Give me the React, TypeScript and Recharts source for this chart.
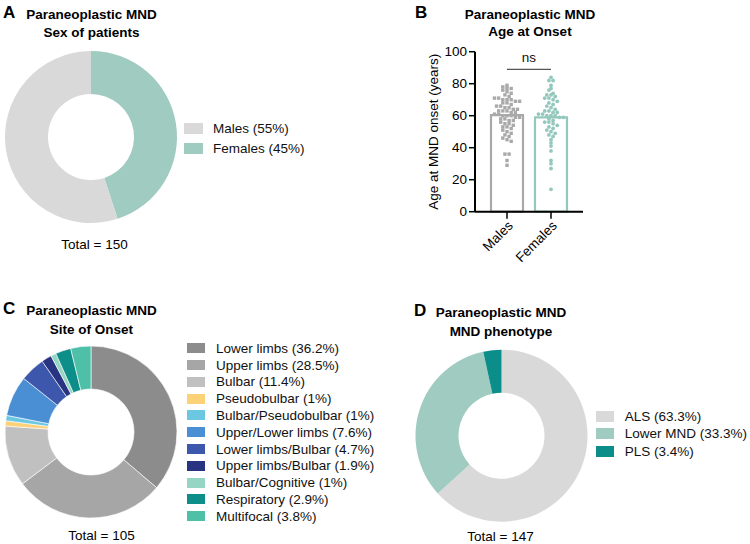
import React from 'react';
import {
  PieChart,
  Pie,
  Cell,
  Legend,
  ComposedChart,
  Bar,
  Scatter,
  XAxis,
  YAxis,
  ReferenceLine,
  Label,
} from 'recharts';

const FONT = '"Liberation Sans", Arial, Helvetica, sans-serif';

// A: sex of patients (clockwise from 12 o'clock)
const sexNames = ['Females', 'Males'];
const sexShares = [45, 55];
const sexColors = ['#9fcbc1', '#d9d9d9'];
const sexLegendOrder = [1, 0];
const sexTotal = 150;

// B: age at onset per sex
const ageGroups = ['Males', 'Females'];
const groupColors = ['#a9a9a9', '#94c8bc'];
const maleAges = [
  79, 78, 77, 77, 76, 75, 74, 73, 72, 71, 71, 70, 70, 70, 69, 69, 68, 68, 67, 66,
  66, 65, 65, 64, 64, 63, 63, 63, 62, 62, 61, 61, 60, 60, 60, 59, 59, 58, 58, 57,
  57, 56, 55, 55, 54, 53, 53, 52, 51, 50, 49, 48, 47, 46, 45, 44, 36, 36, 32, 29,
];
const femaleAges = [
  84, 82, 82, 79, 77, 76, 74, 73, 73, 72, 71, 71, 70, 69, 68, 67, 66, 65, 64, 63,
  63, 62, 62, 61, 61, 60, 60, 60, 59, 59, 58, 57, 56, 56, 55, 54, 53, 52, 51, 50,
  49, 48, 47, 45, 43, 41, 38, 32, 30, 27, 14,
];
const ageTicks = [0, 20, 40, 60, 80, 100];
const nsLevel = 89;

// C: site of onset (clockwise from 12 o'clock)
const siteNames = [
  'Lower limbs',
  'Upper limbs',
  'Bulbar',
  'Pseudobulbar',
  'Bulbar/Pseudobulbar',
  'Upper/Lower limbs',
  'Lower limbs/Bulbar',
  'Upper limbs/Bulbar',
  'Bulbar/Cognitive',
  'Respiratory',
  'Multifocal',
];
const siteShares = [36.2, 28.5, 11.4, 1, 1, 7.6, 4.7, 1.9, 1, 2.9, 3.8];
const siteColors = [
  '#8c8c8c',
  '#a6a6a6',
  '#c0c0c0',
  '#fdd178',
  '#6cc8e2',
  '#4a8fd4',
  '#3d57ad',
  '#283381',
  '#94d5c4',
  '#0e8e88',
  '#4fc0a8',
];
const siteTotal = 105;

// D: MND phenotype (clockwise from 12 o'clock)
const phenoNames = ['ALS', 'Lower MND', 'PLS'];
const phenoShares = [63.3, 33.3, 3.4];
const phenoColors = ['#d9d9d9', '#9fcbc1', '#0b8e8a'];
const phenoTotal = 147;

const mean = (xs: number[]) => xs.reduce((s, v) => s + v, 0) / xs.length;

// Spread points that share an age band side by side (dot-plot layout)
function swarm(ages: number[], center: number) {
  const bins = new Map<number, number[]>();
  ages.forEach((a) => {
    const k = Math.round(a / 2.5);
    bins.set(k, [...(bins.get(k) ?? []), a]);
  });
  const pts: { x: number; age: number }[] = [];
  bins.forEach((list) =>
    list.forEach((age, i) => pts.push({ x: center + (i - (list.length - 1) / 2) * 0.095, age }))
  );
  return pts;
}

type LegendItem = { label: string; color: string };

function SwatchLegend({
  items,
  sw,
  sh,
  gap,
  rowH,
}: {
  items: LegendItem[];
  sw: number;
  sh: number;
  gap: number;
  rowH: number;
}) {
  return (
    <div style={{ fontFamily: FONT, fontSize: 13.5, color: '#111' }}>
      {items.map((it) => (
        <div
          key={it.label}
          style={{ display: 'flex', alignItems: 'center', height: rowH, whiteSpace: 'nowrap' }}
        >
          <span style={{ width: sw, height: sh, background: it.color, marginRight: gap, flex: 'none' }} />
          <span>{it.label}</span>
        </div>
      ))}
    </div>
  );
}

function Donut({
  names,
  shares,
  colors,
  cx,
  cy,
  legendItems,
  legendPos,
  sw,
  sh,
  gap,
  rowH,
  stroke,
}: {
  names: string[];
  shares: number[];
  colors: string[];
  cx: number;
  cy: number;
  legendItems: LegendItem[];
  legendPos: { left: number; top: number };
  sw: number;
  sh: number;
  gap: number;
  rowH: number;
  stroke?: string;
}) {
  const data = names.map((name, i) => ({ name, value: shares[i] }));
  return (
    <PieChart width={375} height={272} margin={{ top: 0, right: 0, bottom: 0, left: 0 }}>
      <Pie
        data={data}
        dataKey="value"
        nameKey="name"
        cx={cx}
        cy={cy}
        innerRadius={43}
        outerRadius={86}
        startAngle={90}
        endAngle={-270}
        stroke={stroke ?? 'none'}
        strokeWidth={0.6}
        isAnimationActive={false}
      >
        {data.map((d, i) => (
          <Cell key={d.name} fill={colors[i]} />
        ))}
      </Pie>
      <Legend
        layout="vertical"
        align="right"
        verticalAlign="top"
        wrapperStyle={{ left: legendPos.left, top: legendPos.top, right: 'auto', width: 200 }}
        content={() => <SwatchLegend items={legendItems} sw={sw} sh={sh} gap={gap} rowH={rowH} />}
      />
    </PieChart>
  );
}

function AgeChart() {
  const barData = ageGroups.map((group, i) => ({
    group,
    mean: mean(i === 0 ? maleAges : femaleAges),
  }));
  const malePts = swarm(maleAges, 1);
  const femalePts = swarm(femaleAges, 2);
  return (
    <ComposedChart
      width={375}
      height={272}
      data={barData}
      margin={{ top: 51.7, right: 167, bottom: 0, left: 0 }}
    >
      <XAxis
        xAxisId="cat"
        dataKey="group"
        padding={{ left: 10, right: 10 }}
        height={60.3}
        interval={0}
        tickSize={7}
        tickMargin={1}
        angle={-45}
        textAnchor="end"
        axisLine={{ stroke: '#000', strokeWidth: 2 }}
        tickLine={{ stroke: '#000', strokeWidth: 1.5 }}
        tick={{ fill: '#000', fontSize: 13.5, fontFamily: FONT }}
      />
      <XAxis
        xAxisId="jit"
        type="number"
        dataKey="x"
        domain={[0.5, 2.5]}
        padding={{ left: 10, right: 10 }}
        allowDataOverflow
        hide
      />
      <YAxis
        width={100}
        domain={[0, 100]}
        ticks={ageTicks}
        interval={0}
        tickSize={6}
        tickMargin={2}
        axisLine={{ stroke: '#000', strokeWidth: 2 }}
        tickLine={{ stroke: '#000', strokeWidth: 1.5 }}
        tick={{ fill: '#000', fontSize: 13.5, fontFamily: FONT }}
      >
        <Label
          value="Age at MND onset (years)"
          angle={-90}
          position="insideLeft"
          offset={58}
          style={{ textAnchor: 'middle', fontSize: 13.5, fontFamily: FONT, fill: '#000' }}
        />
      </YAxis>
      <Bar xAxisId="cat" dataKey="mean" barSize={32} isAnimationActive={false}>
        {barData.map((d, i) => (
          <Cell key={d.group} fill="#fff" stroke={groupColors[i]} strokeWidth={2.2} />
        ))}
      </Bar>
      <Scatter
        xAxisId="jit"
        data={malePts}
        dataKey="age"
        isAnimationActive={false}
        shape={(p: any) => (
          <rect x={p.cx - 1.7} y={p.cy - 1.7} width={3.4} height={3.4} fill={groupColors[0]} />
        )}
      />
      <Scatter
        xAxisId="jit"
        data={femalePts}
        dataKey="age"
        isAnimationActive={false}
        shape={(p: any) => <circle cx={p.cx} cy={p.cy} r={1.9} fill={groupColors[1]} />}
      />
      <ReferenceLine
        xAxisId="cat"
        segment={[
          { x: ageGroups[0], y: nsLevel },
          { x: ageGroups[1], y: nsLevel },
        ]}
        stroke="#555"
        strokeWidth={1.3}
        label={{ value: 'ns', position: 'top', offset: 7, fill: '#111', fontSize: 13.5, fontFamily: FONT }}
      />
    </ComposedChart>
  );
}

function Heading({
  letter,
  lx,
  ly,
  cx,
  lines,
  y2,
}: {
  letter: string;
  lx: number;
  ly: number;
  cx: number;
  lines: [string, string];
  y2: number;
}) {
  return (
    <g fontFamily={FONT} fill="#000">
      <text x={lx} y={ly} fontSize={17} fontWeight="bold">
        {letter}
      </text>
      <text x={cx} y={ly + 1} fontSize={13.5} fontWeight="bold" textAnchor="middle">
        {lines[0]}
      </text>
      <text x={cx} y={y2} fontSize={13.5} fontWeight="bold" textAnchor="middle">
        {lines[1]}
      </text>
    </g>
  );
}

export default function App() {
  const pct = (names: string[], shares: number[], colors: string[], order?: number[]) =>
    (order ?? names.map((_, i) => i)).map((i) => ({
      label: `${names[i]} (${shares[i]}%)`,
      color: colors[i],
    }));

  return (
    <div
      style={{
        position: 'absolute',
        left: 0,
        top: 0,
        width: 750,
        height: 544,
        background: '#fff',
        fontFamily: FONT,
        overflow: 'hidden',
      }}
    >
      <div style={{ position: 'absolute', left: 0, top: 0 }}>
        <Donut
          names={sexNames}
          shares={sexShares}
          colors={sexColors}
          cx={91}
          cy={137}
          legendItems={pct(sexNames, sexShares, sexColors, sexLegendOrder)}
          legendPos={{ left: 184, top: 118.7 }}
          sw={19}
          sh={11}
          gap={10}
          rowH={20}
        />
      </div>
      <div style={{ position: 'absolute', left: 375, top: 0 }}>
        <AgeChart />
      </div>
      <div style={{ position: 'absolute', left: 0, top: 272 }}>
        <Donut
          names={siteNames}
          shares={siteShares}
          colors={siteColors}
          cx={91}
          cy={160}
          legendItems={pct(siteNames, siteShares, siteColors)}
          legendPos={{ left: 187, top: 67.9 }}
          sw={18}
          sh={10}
          gap={11}
          rowH={16.8}
          stroke="#fff"
        />
      </div>
      <div style={{ position: 'absolute', left: 375, top: 272 }}>
        <Donut
          names={phenoNames}
          shares={phenoShares}
          colors={phenoColors}
          cx={126.5}
          cy={163.7}
          legendItems={pct(phenoNames, phenoShares, phenoColors)}
          legendPos={{ left: 220.7, top: 136 }}
          sw={18}
          sh={11}
          gap={11}
          rowH={17.3}
        />
      </div>
      <svg
        width={750}
        height={544}
        style={{ position: 'absolute', left: 0, top: 0, pointerEvents: 'none' }}
      >
        <Heading letter="A" lx={3} ly={18} cx={91.5} lines={['Paraneoplastic MND', 'Sex of patients']} y2={37} />
        <Heading letter="B" lx={415} ly={18} cx={530} lines={['Paraneoplastic MND', 'Age at Onset']} y2={36} />
        <Heading letter="C" lx={3} ly={314} cx={91.5} lines={['Paraneoplastic MND', 'Site of Onset']} y2={334} />
        <Heading letter="D" lx={414} ly={316} cx={501} lines={['Paraneoplastic MND', 'MND phenotype']} y2={335.5} />
        <g fontFamily={FONT} fontSize={13.5} fill="#000" textAnchor="middle">
          <text x={94.5} y={249}>{`Total = ${sexTotal}`}</text>
          <text x={101.5} y={539.5}>{`Total = ${siteTotal}`}</text>
          <text x={500.5} y={541}>{`Total = ${phenoTotal}`}</text>
        </g>
      </svg>
    </div>
  );
}
